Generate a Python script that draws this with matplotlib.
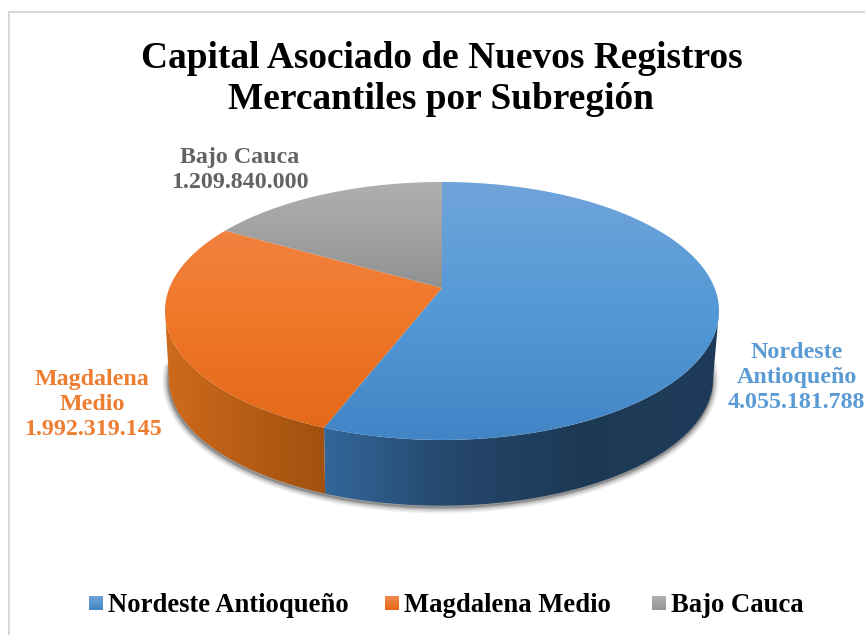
import numpy as np
import matplotlib
matplotlib.use('Agg')
import matplotlib.pyplot as plt
from matplotlib.colors import LinearSegmentedColormap
from matplotlib.patches import PathPatch
from matplotlib.path import Path

# datos
subregiones = ['Nordeste Antioqueño', 'Magdalena Medio', 'Bajo Cauca']
capital = [4055181788, 1992319145, 1209840000]
etiquetas = ['Nordeste\nAntioqueño\n4.055.181.788', 'Magdalena\nMedio\n1.992.319.145', 'Bajo Cauca\n1.209.840.000']
titulo = 'Capital Asociado de Nuevos Registros\nMercantiles por Subregión'

color_texto = ['#5b9bd5', '#ed7d31', '#636363']
color_top = [['#70a4da', '#5399d7', '#4285c6'],
             ['#f0884c', '#f0782a', '#e36816'],
             ['#b0b0b0', '#8a8a8a', '#808080']]
color_ley = [['#70a4da', '#4285c6'], ['#f0884c', '#e36816'], ['#b0b0b0', '#959595']]
color_lado = [['#33669a', '#24466a', '#1c3954', '#1e3c5a'],
              ['#cf6a1c', '#a0500f'],
              ['#888888', '#666666']]

plt.rcParams['font.family'] = ['Liberation Serif', 'DejaVu Serif']
fig = plt.figure(figsize=(8.65, 6.35), dpi=100)
ax = fig.add_axes([0, 0, 1, 1])

# pastel en perspectiva (coordenadas en pixeles)
cx, cy = 442, 288
a, b, p = 272.6, 124.9, 0.178
fondo = 0.982
dy = 68.5


def proyectar(t, base=False):
    # t en radianes, horario desde arriba
    u, v = np.sin(t), np.cos(t)
    d = 1 + p * v
    if base:
        return cx - 1 + fondo * a * u / d, cy + dy - fondo * b * v / d
    return cx + a * u / d, cy - b * v / d


def relleno(colores, path, horizontal, x0, x1, y0, y1):
    cm = LinearSegmentedColormap.from_list('g', colores)
    g = np.linspace(0, 1, 256)
    g = g[None, :] if horizontal else g[:, None]
    im = ax.imshow(g, cmap=cm, extent=(x0, x1, y1, y0), aspect='auto', vmin=0, vmax=1, zorder=3)
    patch = PathPatch(path, fc='none', ec='none', transform=ax.transData)
    ax.add_patch(patch)
    im.set_clip_path(patch)


frac = np.array(capital) / sum(capital)
cortes = np.concatenate([[0], np.cumsum(frac)]) * 2 * np.pi
t_ini = np.arccos(-p)
t_fin = 2 * np.pi - t_ini

# sombra debajo del pastel
ts = np.linspace(t_ini - 0.1, t_fin + 0.1, 200)
xs, ys = proyectar(ts, base=True)
for w, al in zip([9, 7, 5, 3, 1.5], [0.06, 0.09, 0.13, 0.18, 0.25]):
    ax.plot(xs - 0.5, ys + 1.5, color='#303030', lw=w, alpha=al, zorder=2, solid_capstyle='round')

# paredes
for i in range(3):
    t0 = max(cortes[i], t_ini)
    t1 = min(cortes[i + 1], t_fin)
    if t1 <= t0:
        continue
    t = np.linspace(t0, t1, 200)
    x1, y1 = proyectar(t)
    x2, y2 = proyectar(t[::-1], base=True)
    pts = np.column_stack([np.r_[x1, x2], np.r_[y1, y2]])
    path = Path(np.vstack([pts, pts[0]]), closed=True)
    relleno(color_lado[i], path, True, pts[:, 0].min(), pts[:, 0].max(), 0, 635)

# caras superiores
for i in range(3):
    t = np.linspace(cortes[i], cortes[i + 1], 300)
    x1, y1 = proyectar(t)
    pts = np.vstack([[cx, cy], np.column_stack([x1, y1]), [cx, cy]])
    relleno(color_top[i], Path(pts, closed=True), False, 160, 725, 182, 440)

# titulo
ax.text(441.5, 79, titulo, ha='center', va='center', fontsize=26.9, fontweight='bold', color='black',
        linespacing=1.24, zorder=5)

# etiquetas
pos_et = [(796.5, 377.5), (92.5, 404.5), (240, 170)]
for i in range(3):
    ax.text(pos_et[i][0], pos_et[i][1], etiquetas[i], ha='center', va='center', fontsize=17.3,
            fontweight='bold', color=color_texto[i], linespacing=1.27, zorder=5)

# leyenda
ley_x = [89, 385, 652]
for i in range(3):
    cuadro = Path([(ley_x[i], 596), (ley_x[i] + 14, 596), (ley_x[i] + 14, 610), (ley_x[i], 610), (ley_x[i], 596)], closed=True)
    relleno(color_ley[i], cuadro, False, ley_x[i], ley_x[i] + 14, 596, 610)
    ax.text(ley_x[i] + 19, 605, subregiones[i], ha='left', va='center', fontsize=19.2, fontweight='bold',
            color='black', zorder=5)

# borde del grafico
ax.plot([865, 8.5, 8.5], [11.5, 11.5, 635], color='#d9d9d9', lw=1.5, zorder=1)

ax.set_xlim(0, 865)
ax.set_ylim(635, 0)
ax.axis('off')
fig.savefig('out.png', dpi=100)
